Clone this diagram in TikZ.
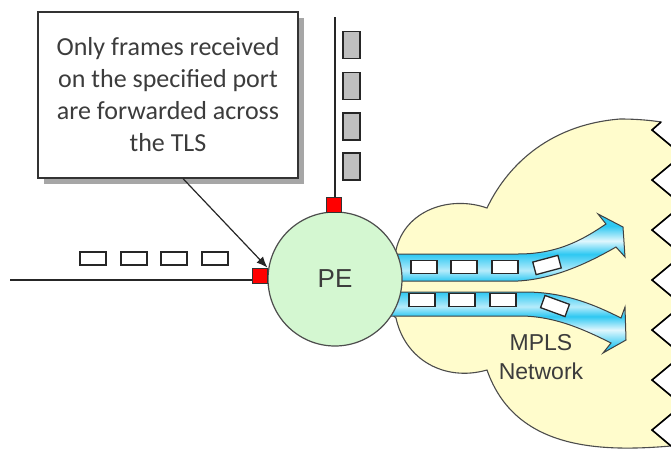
\documentclass[tikz,border=0pt]{standalone}
\usepackage{fontspec}
\setmainfont{Liberation Sans}
\newfontfamily\calibrifont{Carlito}
\usetikzlibrary{arrows.meta,shadows}
\definecolor{cloudfill}{HTML}{FFFCCC}
\definecolor{pefill}{HTML}{D4F7D1}
\definecolor{bandblue}{HTML}{2EC8F2}
\definecolor{textgray}{HTML}{3C3C3C}
\pgfdeclareverticalshading{bandup}{100bp}{color(0bp)=(bandblue); color(25bp)=(bandblue);
  color(33bp)=(bandblue!35); color(45bp)=(bandblue); color(55bp)=(bandblue!15); color(66bp)=(bandblue);
  color(100bp)=(bandblue)}
\pgfdeclareverticalshading{banddown}{100bp}{color(0bp)=(bandblue); color(30bp)=(bandblue);
  color(44bp)=(bandblue!15); color(55bp)=(bandblue); color(63bp)=(bandblue!35); color(75bp)=(bandblue);
  color(100bp)=(bandblue)}
\tikzset{port/.style={draw=black!80,fill=red,minimum size=15pt,inner sep=0pt,line width=0.8pt}}
\tikzset{frame/.style={draw=black!85,fill=white,line width=1.3pt,
                       minimum width=26pt,minimum height=13pt,inner sep=0pt}}
\tikzset{vframe/.style={frame,fill=black!25,minimum width=17pt,minimum height=27pt}}
\tikzset{link/.style={draw=black!85,line width=1.5pt}}
\tikzset{band/.style={draw=black!75,line width=1pt}}
\tikzset{note/.style={draw=black!80,line width=1.2pt,fill=white,
                      minimum width=260pt,minimum height=166pt,align=center,text=textgray,
                      font=\calibrifont\fontsize{26}{32}\selectfont,
                      drop shadow={shadow xshift=6pt,shadow yshift=-6pt,fill=black!35,opacity=1}}}

\begin{document}
\begin{tikzpicture}[x=1pt,y=-1pt]
        \path[use as bounding box,clip] (0,0) rectangle (671,450);
        % MPLS cloud
        \filldraw[fill=cloudfill,draw=black!70,line width=1.1pt]
            (396,250) .. controls (405,210) and (450,195) .. (487,208)
            .. controls (505,170) and (545,125) .. (620,119)
            .. controls (640,119) and (655,121) .. (661,122)
            -- (652,130) \foreach \k in {1,...,6}{ -- ++(30,25) -- ++(-30,25)} -- (671,446)
            .. controls (600,452) and (515,450) .. (487,370)
            .. controls (445,382) and (405,360) .. (396,318) -- (360,285) -- cycle;
        \draw[black,line width=1.6pt] (661,122) -- (652,130)
            \foreach \k in {1,...,6}{ -- ++(30,25) -- ++(-30,25)} -- (671,446);
        % Arrows across the network
        \shadedraw[band,shading=bandup] (390,254) -- (518,254)
            .. controls (560,254) and (585,238) .. (606,224) -- (598,214) -- (623,227)
            -- (625,257) -- (616,247) .. controls (590,262) and (555,279) .. (518,281)
            -- (390,281) -- cycle;
        \shadedraw[band,shading=banddown] (390,292) -- (525,292)
            .. controls (565,292) and (595,305) .. (621,318) -- (625,307) -- (626,340)
            -- (603,353) -- (611,343) .. controls (585,330) and (555,316) .. (520,316)
            -- (390,316) -- cycle;
        \foreach \x [count=\xi] in {424,464,505}{%
              \node[frame] (fu\xi) at (\x,267) {};
              \node[frame] (fd\xi) at (\x-2,300) {};
            }
        \node[frame,rotate=15] (fu4) at (547,265) {};
        \node[frame,rotate=-20] (fd4) at (555,306) {};
        % PE and its ports
        \node[circle,draw=black!70,line width=1.2pt,fill=pefill,minimum size=134pt,
              inner sep=0pt,text=textgray,font=\fontsize{26}{30}\selectfont] (pe) at (335,279) {PE};
        \node[port] (portL) at (259.5,275.5) {};
        \node[port] (portT) at (334,205) {};
        \coordinate (lineL) at (10,280);
        \coordinate (lineT) at (335,17);
        \draw[link] (lineL) -- (lineL -| portL.west);
        \draw[link] (lineT) -- (lineT |- portT.north);
        \foreach \x [count=\xi] in {93,134,174,215}{%
              \node[frame] (fl\xi) at (\x,258.5) {};
            }
        \foreach \y [count=\yi] in {45,86,126.5,166.5}{%
              \node[vframe] (ft\yi) at (351.5,\y) {};
            }
        % Labels
        \node[align=center,text=textgray,font=\fontsize{23}{29}\selectfont] (mpls)
              at (541,357) {MPLS\\Network};
        \node[note] (callout) at (168,95) {Only frames received\\on the specified port\\
              are forwarded across\\the TLS};
        \draw[black!85,line width=1.2pt,-{Latex[length=11pt,width=9pt]}]
              ([xshift=15pt]callout.south) -- (portL.north east);
    \end{tikzpicture}
\end{document}
